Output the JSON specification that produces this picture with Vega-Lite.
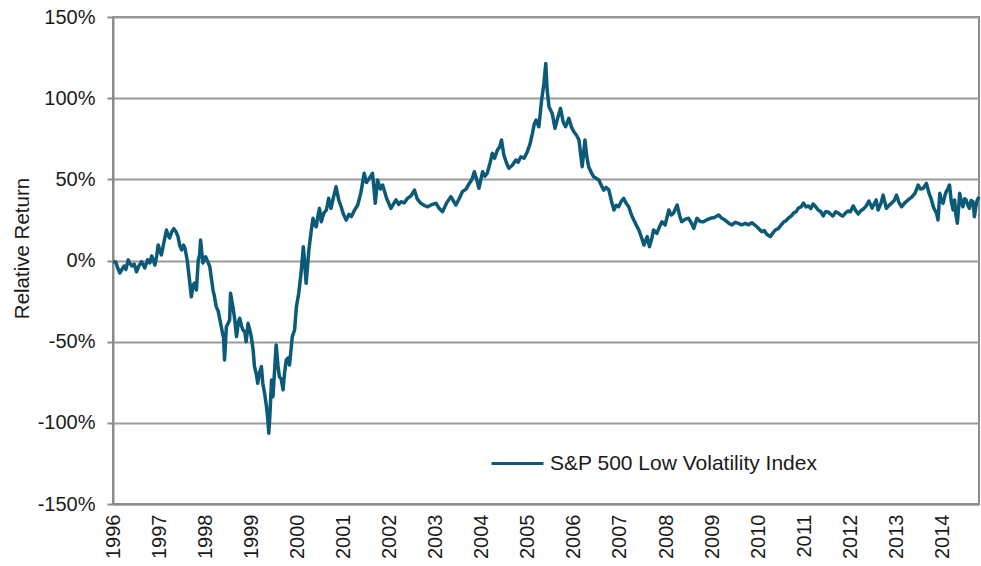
{
  "$schema": "https://vega.github.io/schema/vega-lite/v6.json",
  "autosize": "none",
  "width": 866,
  "height": 487,
  "padding": {"left": 113, "top": 17, "right": 2, "bottom": 62},
  "background": "white",
  "config": {
    "font": "Liberation Sans",
    "view": {"stroke": "#8c8c8c", "strokeWidth": 2},
    "axis": {"labelFont": "Liberation Sans", "titleFont": "Liberation Sans", "labelColor": "#1a1a1a", "titleColor": "#1a1a1a", "labelFontSize": 20, "titleFontSize": 20.5, "titleFontWeight": "normal"},
    "legend": {"labelFont": "Liberation Sans", "labelFontSize": 21, "labelColor": "#1a1a1a", "labelLimit": 0}
  },
  "data": {
    "values": [
      {"t":1996.0,"v":-0.7},{"t":1996.06,"v":-0.9},{"t":1996.1,"v":-4.5},{"t":1996.15,"v":-7.7},{"t":1996.2,"v":-5.2},{"t":1996.24,"v":-3.4},{"t":1996.28,"v":-5.5},{"t":1996.33,"v":0.3},{"t":1996.37,"v":-1.8},{"t":1996.41,"v":-3.4},{"t":1996.46,"v":-2.2},{"t":1996.51,"v":-6.9},{"t":1996.56,"v":-3.5},{"t":1996.62,"v":-0.7},{"t":1996.69,"v":-4.6},{"t":1996.75,"v":0.5},{"t":1996.8,"v":-1.5},{"t":1996.84,"v":2.8},{"t":1996.91,"v":-2.8},{"t":1996.95,"v":3.2},{"t":1996.98,"v":9.5},{"t":1997.02,"v":6.0},{"t":1997.05,"v":3.4},{"t":1997.1,"v":10.5},{"t":1997.16,"v":18.8},{"t":1997.2,"v":15.2},{"t":1997.23,"v":13.9},{"t":1997.28,"v":18.0},{"t":1997.32,"v":19.6},{"t":1997.37,"v":17.5},{"t":1997.41,"v":14.7},{"t":1997.45,"v":9.0},{"t":1997.49,"v":6.5},{"t":1997.53,"v":9.5},{"t":1997.56,"v":7.7},{"t":1997.61,"v":0.3},{"t":1997.66,"v":-12.0},{"t":1997.7,"v":-22.3},{"t":1997.74,"v":-15.0},{"t":1997.77,"v":-13.9},{"t":1997.81,"v":-18.2},{"t":1997.85,"v":0.3},{"t":1997.88,"v":3.5},{"t":1997.9,"v":12.6},{"t":1997.95,"v":-1.5},{"t":1998.01,"v":2.3},{"t":1998.06,"v":-1.0},{"t":1998.1,"v":-3.8},{"t":1998.17,"v":-18.2},{"t":1998.2,"v":-22.0},{"t":1998.24,"v":-28.4},{"t":1998.28,"v":-31.0},{"t":1998.32,"v":-36.6},{"t":1998.37,"v":-43.8},{"t":1998.4,"v":-48.0},{"t":1998.42,"v":-61.3},{"t":1998.46,"v":-40.8},{"t":1998.5,"v":-38.5},{"t":1998.53,"v":-36.6},{"t":1998.55,"v":-20.2},{"t":1998.6,"v":-28.4},{"t":1998.64,"v":-36.0},{"t":1998.68,"v":-46.9},{"t":1998.72,"v":-38.0},{"t":1998.75,"v":-35.6},{"t":1998.79,"v":-40.5},{"t":1998.82,"v":-42.8},{"t":1998.86,"v":-44.0},{"t":1998.89,"v":-50.0},{"t":1998.93,"v":-38.7},{"t":1998.97,"v":-43.0},{"t":1999.0,"v":-46.9},{"t":1999.04,"v":-55.0},{"t":1999.07,"v":-65.4},{"t":1999.11,"v":-70.0},{"t":1999.14,"v":-75.6},{"t":1999.18,"v":-69.0},{"t":1999.22,"v":-65.4},{"t":1999.25,"v":-75.6},{"t":1999.29,"v":-82.0},{"t":1999.33,"v":-90.0},{"t":1999.36,"v":-98.0},{"t":1999.38,"v":-106.4},{"t":1999.41,"v":-92.0},{"t":1999.44,"v":-73.6},{"t":1999.47,"v":-83.9},{"t":1999.51,"v":-66.0},{"t":1999.54,"v":-52.0},{"t":1999.58,"v":-65.0},{"t":1999.61,"v":-71.6},{"t":1999.65,"v":-73.0},{"t":1999.69,"v":-79.7},{"t":1999.72,"v":-70.0},{"t":1999.76,"v":-61.3},{"t":1999.8,"v":-60.0},{"t":1999.83,"v":-64.4},{"t":1999.89,"v":-46.9},{"t":1999.94,"v":-42.8},{"t":1999.98,"v":-28.4},{"t":2000.03,"v":-20.2},{"t":2000.08,"v":-7.9},{"t":2000.13,"v":8.5},{"t":2000.16,"v":-2.0},{"t":2000.19,"v":-14.0},{"t":2000.22,"v":-4.0},{"t":2000.25,"v":6.5},{"t":2000.3,"v":18.0},{"t":2000.34,"v":26.0},{"t":2000.38,"v":22.0},{"t":2000.41,"v":20.8},{"t":2000.45,"v":28.0},{"t":2000.48,"v":32.1},{"t":2000.52,"v":23.9},{"t":2000.57,"v":29.0},{"t":2000.63,"v":31.1},{"t":2000.68,"v":38.3},{"t":2000.73,"v":32.1},{"t":2000.78,"v":38.5},{"t":2000.84,"v":45.4},{"t":2000.9,"v":37.0},{"t":2000.95,"v":33.1},{"t":2001.0,"v":28.5},{"t":2001.06,"v":24.9},{"t":2001.12,"v":28.5},{"t":2001.17,"v":27.0},{"t":2001.24,"v":31.0},{"t":2001.31,"v":34.2},{"t":2001.38,"v":42.0},{"t":2001.45,"v":53.7},{"t":2001.5,"v":48.0},{"t":2001.56,"v":50.6},{"t":2001.63,"v":53.7},{"t":2001.66,"v":45.0},{"t":2001.69,"v":35.2},{"t":2001.74,"v":49.6},{"t":2001.8,"v":44.0},{"t":2001.85,"v":46.5},{"t":2001.94,"v":38.0},{"t":2002.03,"v":32.1},{"t":2002.09,"v":35.0},{"t":2002.14,"v":37.3},{"t":2002.2,"v":34.5},{"t":2002.25,"v":36.2},{"t":2002.32,"v":35.5},{"t":2002.39,"v":38.3},{"t":2002.47,"v":40.0},{"t":2002.54,"v":43.4},{"t":2002.6,"v":38.0},{"t":2002.68,"v":35.2},{"t":2002.75,"v":34.0},{"t":2002.83,"v":33.1},{"t":2002.92,"v":34.5},{"t":2003.01,"v":35.2},{"t":2003.08,"v":32.0},{"t":2003.15,"v":30.1},{"t":2003.24,"v":35.5},{"t":2003.33,"v":39.3},{"t":2003.44,"v":34.2},{"t":2003.51,"v":38.0},{"t":2003.58,"v":42.4},{"t":2003.66,"v":44.0},{"t":2003.73,"v":47.5},{"t":2003.79,"v":50.0},{"t":2003.84,"v":54.7},{"t":2003.89,"v":50.0},{"t":2003.94,"v":44.5},{"t":2004.02,"v":54.7},{"t":2004.07,"v":52.0},{"t":2004.12,"v":53.7},{"t":2004.18,"v":60.0},{"t":2004.23,"v":66.0},{"t":2004.28,"v":63.0},{"t":2004.34,"v":68.0},{"t":2004.39,"v":70.0},{"t":2004.43,"v":74.2},{"t":2004.48,"v":65.0},{"t":2004.54,"v":60.0},{"t":2004.59,"v":56.8},{"t":2004.66,"v":58.5},{"t":2004.74,"v":61.9},{"t":2004.79,"v":60.5},{"t":2004.85,"v":63.9},{"t":2004.92,"v":63.0},{"t":2004.99,"v":67.0},{"t":2005.05,"v":72.0},{"t":2005.1,"v":78.3},{"t":2005.14,"v":84.0},{"t":2005.18,"v":86.5},{"t":2005.24,"v":82.4},{"t":2005.3,"v":98.8},{"t":2005.35,"v":109.1},{"t":2005.39,"v":121.4},{"t":2005.42,"v":105.0},{"t":2005.46,"v":94.7},{"t":2005.53,"v":90.6},{"t":2005.59,"v":81.4},{"t":2005.65,"v":88.0},{"t":2005.71,"v":93.7},{"t":2005.77,"v":85.0},{"t":2005.82,"v":82.4},{"t":2005.89,"v":87.6},{"t":2005.95,"v":82.0},{"t":2006.0,"v":79.3},{"t":2006.06,"v":77.0},{"t":2006.11,"v":74.2},{"t":2006.18,"v":57.8},{"t":2006.24,"v":74.2},{"t":2006.28,"v":64.0},{"t":2006.32,"v":57.8},{"t":2006.38,"v":54.0},{"t":2006.43,"v":51.6},{"t":2006.54,"v":49.6},{"t":2006.6,"v":46.0},{"t":2006.65,"v":43.4},{"t":2006.7,"v":45.0},{"t":2006.76,"v":43.4},{"t":2006.82,"v":36.0},{"t":2006.87,"v":31.1},{"t":2006.92,"v":34.0},{"t":2006.97,"v":33.1},{"t":2007.03,"v":36.5},{"t":2007.08,"v":38.3},{"t":2007.14,"v":35.0},{"t":2007.19,"v":33.1},{"t":2007.25,"v":28.0},{"t":2007.3,"v":24.9},{"t":2007.36,"v":21.5},{"t":2007.41,"v":18.8},{"t":2007.47,"v":14.0},{"t":2007.52,"v":9.5},{"t":2007.59,"v":14.7},{"t":2007.64,"v":8.5},{"t":2007.69,"v":13.5},{"t":2007.73,"v":18.8},{"t":2007.8,"v":16.7},{"t":2007.86,"v":21.0},{"t":2007.91,"v":23.9},{"t":2007.98,"v":21.9},{"t":2008.06,"v":31.1},{"t":2008.11,"v":28.0},{"t":2008.16,"v":29.1},{"t":2008.24,"v":34.2},{"t":2008.3,"v":27.0},{"t":2008.34,"v":23.9},{"t":2008.42,"v":25.5},{"t":2008.49,"v":26.0},{"t":2008.55,"v":23.0},{"t":2008.6,"v":19.8},{"t":2008.67,"v":26.0},{"t":2008.74,"v":24.0},{"t":2008.81,"v":23.9},{"t":2008.88,"v":25.0},{"t":2008.96,"v":26.0},{"t":2009.05,"v":26.5},{"t":2009.14,"v":28.0},{"t":2009.21,"v":26.0},{"t":2009.28,"v":24.9},{"t":2009.36,"v":23.0},{"t":2009.43,"v":21.9},{"t":2009.5,"v":23.5},{"t":2009.57,"v":22.9},{"t":2009.64,"v":22.0},{"t":2009.72,"v":22.9},{"t":2009.79,"v":22.0},{"t":2009.86,"v":23.3},{"t":2009.92,"v":22.0},{"t":2009.97,"v":20.8},{"t":2010.03,"v":19.0},{"t":2010.08,"v":17.7},{"t":2010.13,"v":18.5},{"t":2010.18,"v":16.3},{"t":2010.26,"v":14.7},{"t":2010.32,"v":17.0},{"t":2010.37,"v":18.8},{"t":2010.44,"v":19.8},{"t":2010.5,"v":22.0},{"t":2010.55,"v":23.7},{"t":2010.6,"v":24.5},{"t":2010.66,"v":26.2},{"t":2010.72,"v":27.5},{"t":2010.77,"v":29.3},{"t":2010.82,"v":30.0},{"t":2010.87,"v":32.3},{"t":2010.93,"v":33.0},{"t":2010.98,"v":35.4},{"t":2011.04,"v":33.0},{"t":2011.09,"v":33.6},{"t":2011.14,"v":32.0},{"t":2011.19,"v":34.8},{"t":2011.25,"v":33.0},{"t":2011.3,"v":31.1},{"t":2011.36,"v":30.0},{"t":2011.41,"v":27.4},{"t":2011.46,"v":30.0},{"t":2011.52,"v":29.9},{"t":2011.57,"v":28.5},{"t":2011.62,"v":27.4},{"t":2011.68,"v":30.0},{"t":2011.73,"v":29.3},{"t":2011.79,"v":28.0},{"t":2011.84,"v":27.4},{"t":2011.9,"v":29.5},{"t":2011.95,"v":30.5},{"t":2012.0,"v":30.0},{"t":2012.06,"v":33.6},{"t":2012.11,"v":31.0},{"t":2012.17,"v":28.6},{"t":2012.22,"v":30.5},{"t":2012.28,"v":31.7},{"t":2012.34,"v":33.5},{"t":2012.4,"v":36.6},{"t":2012.47,"v":32.3},{"t":2012.56,"v":37.3},{"t":2012.6,"v":31.1},{"t":2012.66,"v":35.0},{"t":2012.71,"v":40.3},{"t":2012.78,"v":32.1},{"t":2012.84,"v":34.0},{"t":2012.89,"v":35.2},{"t":2012.95,"v":37.0},{"t":2013.0,"v":40.3},{"t":2013.05,"v":36.0},{"t":2013.11,"v":33.1},{"t":2013.18,"v":35.5},{"t":2013.25,"v":37.3},{"t":2013.33,"v":39.0},{"t":2013.4,"v":41.4},{"t":2013.47,"v":46.5},{"t":2013.52,"v":44.0},{"t":2013.58,"v":44.5},{"t":2013.65,"v":47.5},{"t":2013.7,"v":42.0},{"t":2013.76,"v":37.3},{"t":2013.8,"v":33.0},{"t":2013.83,"v":31.1},{"t":2013.87,"v":29.0},{"t":2013.9,"v":25.0},{"t":2013.94,"v":41.4},{"t":2013.97,"v":37.0},{"t":2014.01,"v":35.2},{"t":2014.05,"v":40.0},{"t":2014.08,"v":42.4},{"t":2014.12,"v":44.5},{"t":2014.15,"v":46.5},{"t":2014.19,"v":36.0},{"t":2014.23,"v":31.1},{"t":2014.26,"v":37.3},{"t":2014.29,"v":28.0},{"t":2014.32,"v":23.0},{"t":2014.35,"v":33.0},{"t":2014.37,"v":41.4},{"t":2014.41,"v":36.0},{"t":2014.44,"v":33.1},{"t":2014.48,"v":38.0},{"t":2014.51,"v":37.3},{"t":2014.55,"v":34.0},{"t":2014.58,"v":32.1},{"t":2014.62,"v":37.0},{"t":2014.66,"v":36.2},{"t":2014.69,"v":27.0},{"t":2014.72,"v":33.0},{"t":2014.75,"v":37.0},{"t":2014.79,"v":39.3}
    ]
  },
  "mark": {"type": "line", "strokeWidth": 3.5, "strokeJoin": "round", "interpolate": "linear"},
  "encoding": {
    "x": {
      "field": "t", "type": "quantitative",
      "scale": {"domain": [1996, 2014.79], "nice": false, "zero": false},
      "axis": {"title": null, "values": [1996,1997,1998,1999,2000,2001,2002,2003,2004,2005,2006,2007,2008,2009,2010,2011,2012,2013,2014], "format": "d", "labelAngle": -90, "labelAlign": "right", "labelBaseline": "middle", "ticks": false, "labelPadding": 10, "grid": false, "domainColor": "#8c8c8c", "domainWidth": 2}
    },
    "y": {
      "field": "v", "type": "quantitative",
      "scale": {"domain": [-150, 150], "nice": false},
      "axis": {"title": "Relative Return", "values": [-150,-100,-50,0,50,100,150], "labelExpr": "datum.value + '%'", "tickSize": 6, "tickColor": "#8c8c8c", "tickWidth": 2, "labelPadding": 12, "grid": true, "gridColor": "#9a9a9a", "gridWidth": 2, "domainColor": "#8c8c8c", "domainWidth": 2, "titleX": -91, "titleY": 231, "titleAngle": -90, "titleAlign": "center", "titleBaseline": "middle"}
    },
    "color": {
      "datum": "S&P 500 Low Volatility Index",
      "type": "nominal",
      "scale": {"range": ["#0b5a78"]},
      "legend": {"title": null, "orient": "none", "legendX": 377, "legendY": 419, "symbolType": "stroke", "symbolSize": 2700, "symbolStrokeWidth": 3, "labelOffset": 5, "padding": 0}
    }
  }
}
